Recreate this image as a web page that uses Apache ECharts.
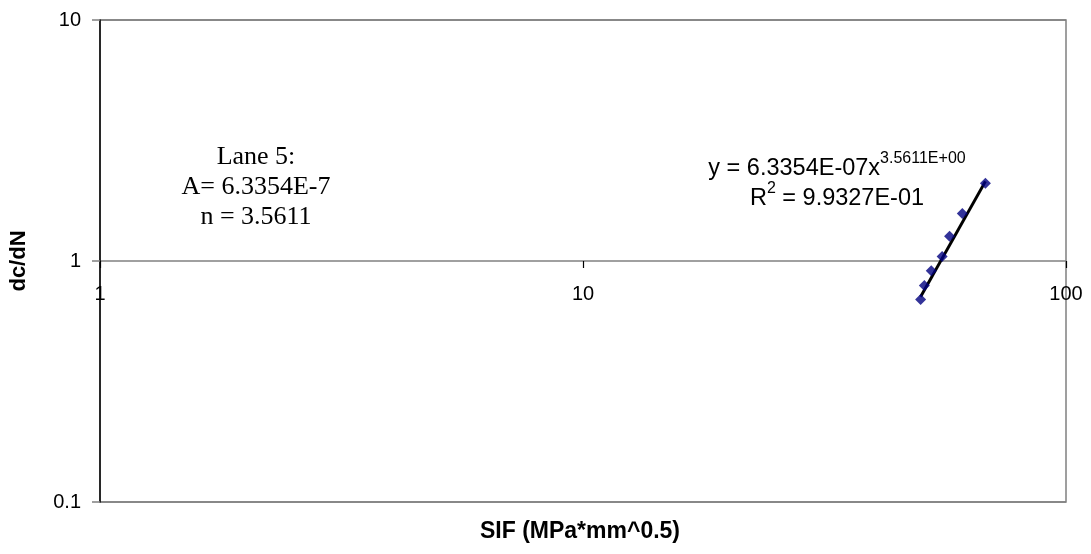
<!DOCTYPE html>
<html>
<head>
<meta charset="utf-8">
<script src="https://cdn.jsdelivr.net/npm/echarts@6/dist/echarts.min.js"></script>
<style>
html,body{margin:0;padding:0;background:#fff;}
#chart{width:1091px;height:554px;}
</style>
</head>
<body>
<div id="chart"></div>
<script>
// Data
const sifValues = [50.0, 50.9, 52.6, 55.4, 57.4, 61.0, 68.1];
const dcdnValues = [0.692, 0.792, 0.911, 1.045, 1.266, 1.574, 2.101];
const trendX = [50.0, 68.1];
const trendY = [0.71, 2.14];
const xTicks = [1, 10, 100];
const yTicks = [0.1, 1, 10];
const annotationLines = ['Lane 5:', 'A= 6.3354E-7', 'n = 3.5611'];
const eqText = 'y = 6.3354E-07x';
const eqExp = '3.5611E+00';
const r2Text = ' = 9.9327E-01';

const points = sifValues.map((x, i) => [x, dcdnValues[i]]);
const trend = trendX.map((x, i) => [x, trendY[i]]);

const chart = echarts.init(document.getElementById('chart'), null, {renderer: 'canvas'});
const option = {
  animation: false,
  backgroundColor: '#ffffff',
  grid: {left: 100, right: 25, top: 20, bottom: 52, outerBoundsMode: 'none', containLabel: false,
         show: true, borderColor: '#808080', borderWidth: 1.5, backgroundColor: 'transparent'},
  xAxis: {
    type: 'log', logBase: 10, min: xTicks[0], max: xTicks[xTicks.length - 1],
    position: 'bottom', offset: -241,
    axisLine: {show: false},
    axisTick: {show: true, length: 7, lineStyle: {color: '#000', width: 1.2}},
    splitLine: {show: false},
    minorTick: {show: false},
    axisLabel: {fontFamily: '"Liberation Sans", Arial', fontSize: 20, color: '#000', margin: 23, verticalAlign: 'top', formatter: v => String(v)}
  },
  yAxis: {
    type: 'log', logBase: 10, min: yTicks[0], max: yTicks[yTicks.length - 1],
    name: 'dc/dN', nameLocation: 'middle', nameRotate: 90, nameGap: 70,
    nameTextStyle: {fontFamily: '"Liberation Sans", Arial', fontWeight: 'bold', fontSize: 22, color: '#000'},
    axisLine: {show: true, lineStyle: {color: '#000', width: 1.5}},
    axisTick: {show: true, length: 8, lineStyle: {color: '#808080', width: 1.5}},
    splitLine: {show: true, lineStyle: {color: '#808080', width: 1.5}},
    axisLabel: {fontFamily: '"Liberation Sans", Arial', fontSize: 20, color: '#000', margin: 19, formatter: v => String(v)}
  },
  graphic: [
    {
      type: 'text', x: 580, y: 520, z: 100,
      style: {text: 'SIF (MPa*mm^0.5)', font: 'bold 23px "Liberation Sans", Arial', fill: '#000', textAlign: 'center'}
    },
    {
      type: 'text', x: 256, y: 142, z: 100,
      style: {text: annotationLines.join('\n'), font: '26px "Liberation Serif", "Times New Roman"', fill: '#000', textAlign: 'center', lineHeight: 30}
    },
    {
      type: 'text', x: 837, y: 151, z: 100,
      style: {
        text: '{n|' + eqText + '}{s|' + eqExp + '}\n{n|R}{s|2}{n|' + r2Text + '}',
        textAlign: 'center',
        fill: '#000',
        rich: {
          n: {fontFamily: '"Liberation Sans", Arial', fontSize: 23.5, lineHeight: 30, verticalAlign: 'bottom', fill: '#000'},
          s: {fontFamily: '"Liberation Sans", Arial', fontSize: 16, lineHeight: 30, verticalAlign: 'top', padding: [0, 0, 12, 0], fill: '#000'}
        }
      }
    }
  ],
  series: [
    {
      type: 'line', data: trend, showSymbol: false, symbol: 'none',
      lineStyle: {color: '#000', width: 3}, z: 2, silent: true
    },
    {
      type: 'scatter', data: points, symbol: 'diamond', symbolSize: 11,
      itemStyle: {color: '#000080'}, z: 3
    }
  ]
};
chart.setOption(option);
</script>
</body>
</html>
